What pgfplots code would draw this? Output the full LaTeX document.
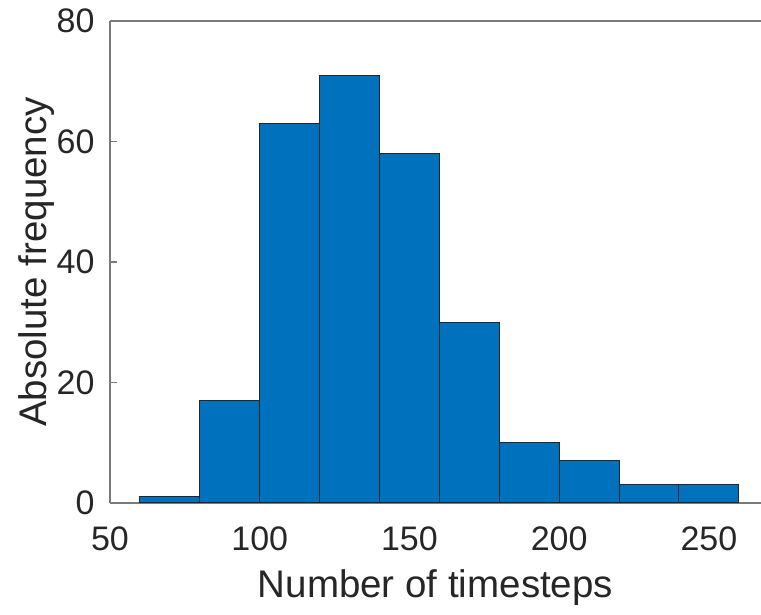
\documentclass[border=0pt]{standalone}
\usepackage{fontspec}
\setmainfont{Liberation Sans}
\usepackage{pgfplots}
\pgfplotsset{compat=1.18}
\usetikzlibrary{calc}
\definecolor{mblue}{HTML}{0072BD}
\definecolor{axgray}{HTML}{7A7A7A}
\definecolor{txt}{HTML}{262626}

\begin{document}
\begin{tikzpicture}
\begin{axis}[
  name=ax,
  scale only axis,
  width=651pt, height=482pt,
  xmin=50, xmax=267.4,
  ymin=0, ymax=80,
  xtick={50,100,150,200,250},
  ytick={0,20,40,60,80},
  axis x line*=bottom, axis y line*=left,
  axis line style={axgray, line width=1.2pt, -},
  tick style={axgray, line width=1.2pt},
  tick align=inside,
  major tick length=7pt,
  xtick pos=both, ytick pos=left,
  /pgf/number format/assume math mode=true,
  ticklabel style={font=\fontsize{34}{40}\selectfont, text=txt},
  xticklabel style={yshift=-20pt},
  yticklabel style={xshift=-12pt},
  xlabel={Number of timesteps},
  ylabel={Absolute frequency},
  label style={font=\fontsize{38.5}{44}\selectfont, text=txt},
  xlabel style={at={($(rel axis cs:0.5,0)+(0,-95pt)$)}, anchor=base},
  ylabel style={at={($(rel axis cs:0,0.5)+(-63pt,0)$)}, anchor=base},
]
\addplot[ybar interval, fill=mblue, draw=black!85, line width=1pt]
  coordinates {(60,1)(80,17)(100,63)(120,71)(140,58)(160,30)(180,10)(200,7)(220,3)(240,3)(260,3)};
\draw[axgray, line width=1.2pt] (rel axis cs:0,1) -- (rel axis cs:1,1);
\end{axis}
\pgfresetboundingbox
\path ($(ax.south west)+(-110pt,-112pt)$) rectangle ($(ax.north east)+(0,21pt)$);
\end{tikzpicture}
\end{document}
